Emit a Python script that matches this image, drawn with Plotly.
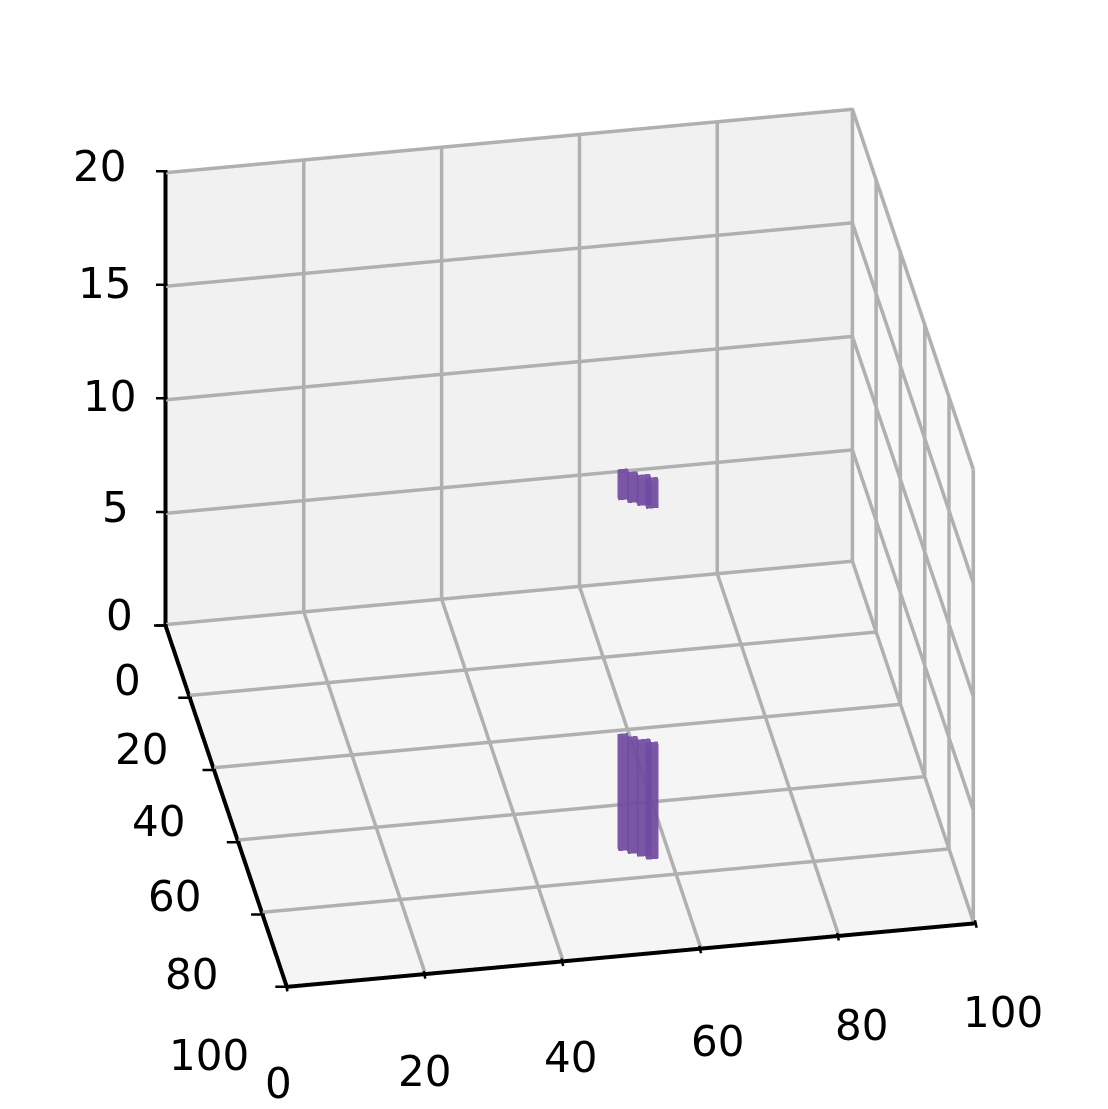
import plotly.graph_objects as go

x_ticks = [0, 20, 40, 60, 80, 100]
y_ticks = [0, 20, 40, 60, 80, 100]
z_ticks = [0, 5, 10, 15, 20]

bar_x = [53.1, 54.3, 55.5, 56.6, 53.1, 54.3, 55.5, 56.6]
bar_y = [70.8, 71.8, 72.8, 73.8, 70.8, 71.8, 72.8, 73.8]
bar_z0 = [0.0, 0.0, 0.0, 0.0, 15.45, 15.45, 15.45, 15.45]
bar_h = [5.0, 5.0, 5.0, 5.0, 1.2, 1.2, 1.2, 1.2]
bar_dx = [1.5, 1.5, 2.0, 1.8, 1.5, 1.5, 2.0, 1.8]
bar_dy = [1.0, 1.0, 1.0, 1.0, 1.0, 1.0, 1.0, 1.0]

# pixel offsets of the tick labels from their ticks
x_label_dx = [-8, 0, 8, 17, 23, 27]
x_label_dy = [97, 97, 96, 93, 90, 89]
y_label_dx = [-38, -48, -56, -64, -71, -78]
y_label_dy = [55, 52, 52, 54, 60, 69]
z_label_dx = [-46, -50, -56, -61, -66]
z_label_dy = [-10, -4, -2, -1, -5]

top_col, front_col, side_col = "#8a4fc4", "#6f4a9e", "#7a4cae"
GRID = "#b0b0b0"
FONT = dict(family="DejaVu Sans", size=42, color="black")

vx, vy, vz, fi, fj, fk, fc = [], [], [], [], [], [], []
for x, y, z, h, dx, dy in zip(bar_x, bar_y, bar_z0, bar_h, bar_dx, bar_dy):
    n = len(vx)
    vx += [x, x + dx, x + dx, x, x, x + dx, x + dx, x]
    vy += [y, y, y + dy, y + dy, y, y, y + dy, y + dy]
    vz += [z, z, z, z, z + h, z + h, z + h, z + h]
    faces = [
        (0, 1, 2, front_col), (0, 2, 3, front_col),
        (4, 5, 6, top_col), (4, 6, 7, top_col),
        (0, 1, 5, front_col), (0, 5, 4, front_col),
        (2, 3, 7, front_col), (2, 7, 6, front_col),
        (0, 3, 7, side_col), (0, 7, 4, side_col),
        (1, 2, 6, side_col), (1, 6, 5, side_col),
    ]
    for a, b, c, col in faces:
        fi.append(n + a); fj.append(n + b); fk.append(n + c); fc.append(col)

fig = go.Figure()

gx, gy, gz = [], [], []
X0, X1, Y0, Y1, Z0, Z1 = x_ticks[0], x_ticks[-1], y_ticks[0], y_ticks[-1], z_ticks[0], z_ticks[-1]
# lift the grid just off the walls so the panes do not cut into the lines
LIFT_X, LIFT_Y, LIFT_Z = 0.4, 0.4, 0.1
xw, yw, zw = X1 - LIFT_X, Y0 + LIFT_Y, Z0 + LIFT_Z
def seg(*pts):
    for p in pts:
        gx.append(p[0]); gy.append(p[1]); gz.append(p[2])
    gx.append(None); gy.append(None); gz.append(None)
for t in x_ticks[1:]:
    v = min(t, xw)
    seg((v, Y1, zw), (v, yw, zw), (v, yw, Z1))
for t in y_ticks:
    v = max(t, yw)
    if t == Y1:
        seg((xw, v, zw), (xw, v, Z1))
    else:
        seg((X0, v, zw), (xw, v, zw), (xw, v, Z1))
for t in z_ticks:
    v = max(t, zw)
    seg((X0, yw, v), (xw, yw, v), (xw, Y1, v))
fig.add_trace(go.Scatter3d(x=gx, y=gy, z=gz, mode="lines", hoverinfo="skip",
                           line=dict(color=GRID, width=7)))
fig.add_trace(go.Scatter3d(
    x=[X0, X0, X0, X1], y=[Y0, Y0, Y1, Y1], z=[Z1, Z0, Z0, Z0], mode="lines", hoverinfo="skip",
    line=dict(color="black", width=8)))

fig.add_trace(go.Mesh3d(
    x=vx, y=vy, z=vz, i=fi, j=fj, k=fk, facecolor=fc, opacity=0.72,
    flatshading=True, hoverinfo="skip",
    lighting=dict(ambient=1, diffuse=0, specular=0, roughness=1, fresnel=0),
))

annotations = []
def label(x, y, z, text, dx, dy):
    annotations.append(dict(x=x, y=y, z=z, text=text, showarrow=False, xshift=dx, yshift=-dy,
                            font=FONT, xanchor="center", yanchor="middle"))
def tick(x, y, z, ax, ay, sx, sy):
    annotations.append(dict(x=x, y=y, z=z, text="", showarrow=True, arrowhead=0, arrowwidth=2.5,
                            arrowcolor="black", ax=ax, ay=ay, xshift=sx, yshift=-sy, standoff=0))
for t, dx, dy in zip(x_ticks, x_label_dx, x_label_dy):
    label(t, Y1, Z0, str(t), dx, dy)
    tick(t, Y1, Z0, 2, 9, -1, -3)
for t, dx, dy in zip(y_ticks, y_label_dx, y_label_dy):
    label(X0, t, Z0, str(t), dx, dy)
    tick(X0, t, Z0, -15, 0, 2, 0)
for t, dx, dy in zip(z_ticks, z_label_dx, z_label_dy):
    label(X0, Y0, t, str(t), dx, dy)
    tick(X0, Y0, t, -13, 0, 2, 0)

def axis(rng, ticks, bg):
    return dict(
        range=rng, tickmode="array", tickvals=ticks, showticklabels=False,
        title=dict(text=""), showbackground=True, backgroundcolor=bg,
        showgrid=False, showline=False, ticks="",
        zeroline=False, showspikes=False,
    )

fig.update_layout(
    width=1108, height=1109, margin=dict(l=0, r=0, t=0, b=0),
    paper_bgcolor="white", showlegend=False,
    scene=dict(
        domain=dict(x=[0, 1], y=[0, 1]),
        xaxis=axis([X0, X1], x_ticks, "#f8f8f8"),
        yaxis=axis([Y1, Y0], y_ticks, "#f1f1f1"),
        zaxis=axis([Z0, Z1], z_ticks, "#f5f5f5"),
        aspectmode="manual", aspectratio=dict(x=1.262, y=1.262, z=0.962),
        annotations=annotations,
        camera=dict(
            projection=dict(type="orthographic"),
            eye=dict(x=-0.238, y=-1.261, z=0.758),
            center=dict(x=-0.019, y=-0.017, z=-0.020),
            up=dict(x=0, y=0, z=1),
        ),
    ),
)
fig.write_html("out.html")
